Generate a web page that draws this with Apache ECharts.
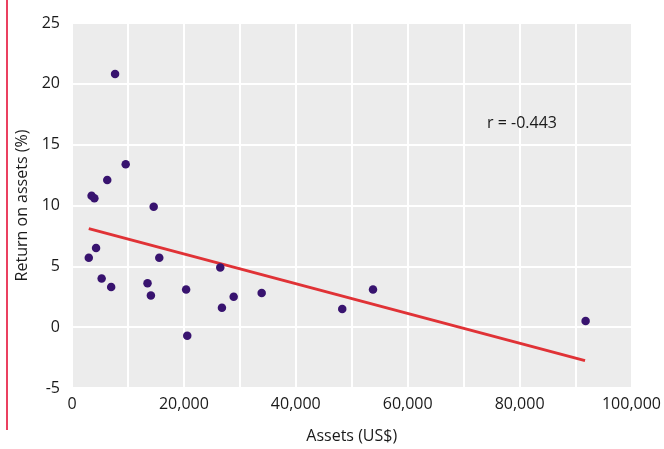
<!DOCTYPE html>
<html>
<head>
<meta charset="utf-8">
<script src="https://cdn.jsdelivr.net/npm/echarts@6/dist/echarts.min.js"></script>
<style>html,body{margin:0;padding:0;background:#fff}#c{width:664px;height:449px}</style>
</head>
<body>
<div id="c"></div>
<script>
// Scatter points: assets (US$) and return on assets (%)
const assets = [7700, 9600, 6300, 3500, 4000, 14600, 3000, 4300, 5300, 7000, 13500, 14100, 15600, 20400, 20600, 26500, 26800, 28900, 33900, 48300, 53800, 91800];
const roa = [20.8, 13.4, 12.1, 10.8, 10.6, 9.9, 5.7, 6.5, 4.0, 3.3, 3.6, 2.6, 5.7, 3.1, -0.7, 4.9, 1.6, 2.5, 2.8, 1.5, 3.1, 0.5];
// Trend line endpoints
const trendX = [3000, 91700];
const trendY = [8.1, -2.75];
const xTicks = [0, 20000, 40000, 60000, 80000, 100000];
const yTicks = [-5, 0, 5, 10, 15, 20, 25];
const annotation = 'r = -0.443';

const points = assets.map((a, i) => [a, roa[i]]);
const trend = trendX.map((x, i) => [x, trendY[i]]);
const font = '"Open Sans", sans-serif';

const chart = echarts.init(document.getElementById('c'), null, {renderer: 'canvas'});
chart.setOption({
  animation: false,
  backgroundColor: '#fff',
  grid: {left: 72, right: 32, top: 23, bottom: 61, show: true, backgroundColor: '#ececec', borderWidth: 0},
  xAxis: {
    type: 'value', min: 0, max: 100000, interval: 10000,
    name: 'Assets (US$)', nameLocation: 'middle', nameGap: 40,
    nameTextStyle: {fontFamily: font, fontSize: 16, color: '#1a1a1a'},
    axisLine: {show: false}, axisTick: {show: false},
    splitLine: {show: true, lineStyle: {color: '#fff', width: 2}},
    axisLabel: {
      fontFamily: font, fontSize: 16, color: '#1a1a1a', margin: 8,
      formatter: v => xTicks.includes(v) ? v.toLocaleString('en-US') : ''
    }
  },
  yAxis: {
    type: 'value', min: -5, max: 25, interval: 5,
    name: 'Return on assets (%)', nameLocation: 'middle', nameGap: 42,
    nameTextStyle: {fontFamily: font, fontSize: 16, color: '#1a1a1a'},
    axisLine: {show: false}, axisTick: {show: false},
    splitLine: {show: true, lineStyle: {color: '#fff', width: 2}},
    axisLabel: {
      fontFamily: font, fontSize: 16, color: '#1a1a1a', margin: 12,
      formatter: v => yTicks.includes(v) ? String(v) : ''
    }
  },
  series: [
    {
      type: 'line', data: trend, showSymbol: false, symbol: 'none',
      lineStyle: {color: '#e03236', width: 3}, z: 2, silent: true
    },
    {
      type: 'scatter', data: points, symbol: 'circle', symbolSize: 8.5,
      itemStyle: {color: '#38136f', opacity: 1}, z: 3
    }
  ],
  graphic: [
    {type: 'line', z: 100, shape: {x1: 7, y1: 0, x2: 7, y2: 430}, style: {stroke: '#e4002b', lineWidth: 1.5}},
    {type: 'text', z: 100, left: 487, top: 115, style: {text: annotation, font: '16px "Open Sans", sans-serif', fill: '#1a1a1a'}}
  ]
});
</script>
</body>
</html>
